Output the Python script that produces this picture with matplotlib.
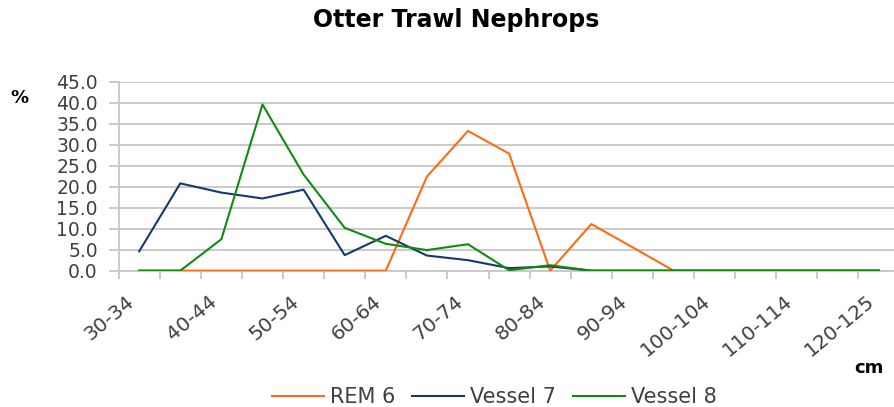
import numpy as np
import matplotlib
matplotlib.use("Agg")
import matplotlib.pyplot as plt
from matplotlib.ticker import FixedLocator, MultipleLocator

plt.rcParams["font.family"] = ["DejaVu Sans"]

# length classes (cm)
categories = ["30-34", "35-39", "40-44", "45-49", "50-54", "55-59", "60-64",
              "65-69", "70-74", "75-79", "80-84", "85-89", "90-94", "95-99",
              "100-104", "105-109", "110-114", "115-119", "120-125"]

# percentages
rem6 = [0.0, 0.0, 0.0, 0.0, 0.0, 0.0, 0.0, 22.4, 33.3, 27.9, 0.0, 11.1, 5.6,
        0.0, 0.0, 0.0, 0.0, 0.0, 0.0]
vessel7 = [4.6, 20.8, 18.6, 17.2, 19.3, 3.7, 8.3, 3.6, 2.5, 0.6, 1.0, 0.0, 0.0,
           0.0, 0.0, 0.0, 0.0, 0.0, 0.0]
vessel8 = [0.0, 0.0, 7.5, 39.6, 22.9, 10.2, 6.4, 4.9, 6.3, 0.1, 1.3, 0.0, 0.0,
           0.0, 0.0, 0.0, 0.0, 0.0, 0.0]

grey = "#C6C6C6"
txt = "#404040"

fig = plt.figure(figsize=[8.94, 4.07], dpi=100)
ax = fig.add_axes([0.1327, 0.335, 0.8735, 0.464])

x = np.arange(len(categories))
# lines above the axis line (zorder 3)
ax.plot(x, rem6, color="#FF6A13", lw=1.5, label="REM 6", zorder=3)
ax.plot(x, vessel7, color="#14396B", lw=1.5, label="Vessel 7", zorder=3)
ax.plot(x, vessel8, color="#128A12", lw=1.5, label="Vessel 8", zorder=3)

ax.set_xlim(-0.5, len(categories) - 0.5)
ax.set_ylim(0, 45)
ax.yaxis.set_major_locator(MultipleLocator(5))
ax.set_yticklabels(["%.1f" % v for v in ax.get_yticks()])
ax.grid(axis="y", color=grey, lw=1.3)
ax.set_axisbelow(True)

# labels every second class (slightly left of the point, like Excel),
# tick marks on class boundaries
ax.xaxis.set_major_locator(FixedLocator(x[::2] - 0.32))
ax.set_xticklabels(categories[::2], rotation=40, ha="right",
                   rotation_mode="anchor", fontsize=14.5, color=txt)
ax.xaxis.set_minor_locator(FixedLocator(np.arange(-0.5, len(categories), 1)))
ax.tick_params(axis="x", which="major", length=0, pad=15)
ax.tick_params(axis="x", which="minor", length=6, width=1.3, color=grey)
ax.tick_params(axis="y", length=7, width=1.3, color=grey, pad=8,
               labelsize=13.5, labelcolor=txt)

for s in ["top", "right"]:
    ax.spines[s].set_visible(False)
for s in ["left", "bottom"]:
    ax.spines[s].set_color(grey)
    ax.spines[s].set_linewidth(1.3)

fig.text(0.51, 0.951, "Otter Trawl Nephrops", ha="center", va="center",
         fontsize=17, fontweight="bold")
fig.text(0.022, 0.759, "%", ha="center", va="center", fontsize=13,
         fontweight="bold")
fig.text(0.972, 0.096, "cm", ha="center", va="center", fontsize=13,
         fontweight="bold")

fig.legend(loc="center", bbox_to_anchor=(0.553, 0.025), ncol=3,
           frameon=False, fontsize=15, handlelength=2.5, handletextpad=0.3,
           columnspacing=0.8, labelcolor=txt)

plt.savefig("out.png", dpi=100)
